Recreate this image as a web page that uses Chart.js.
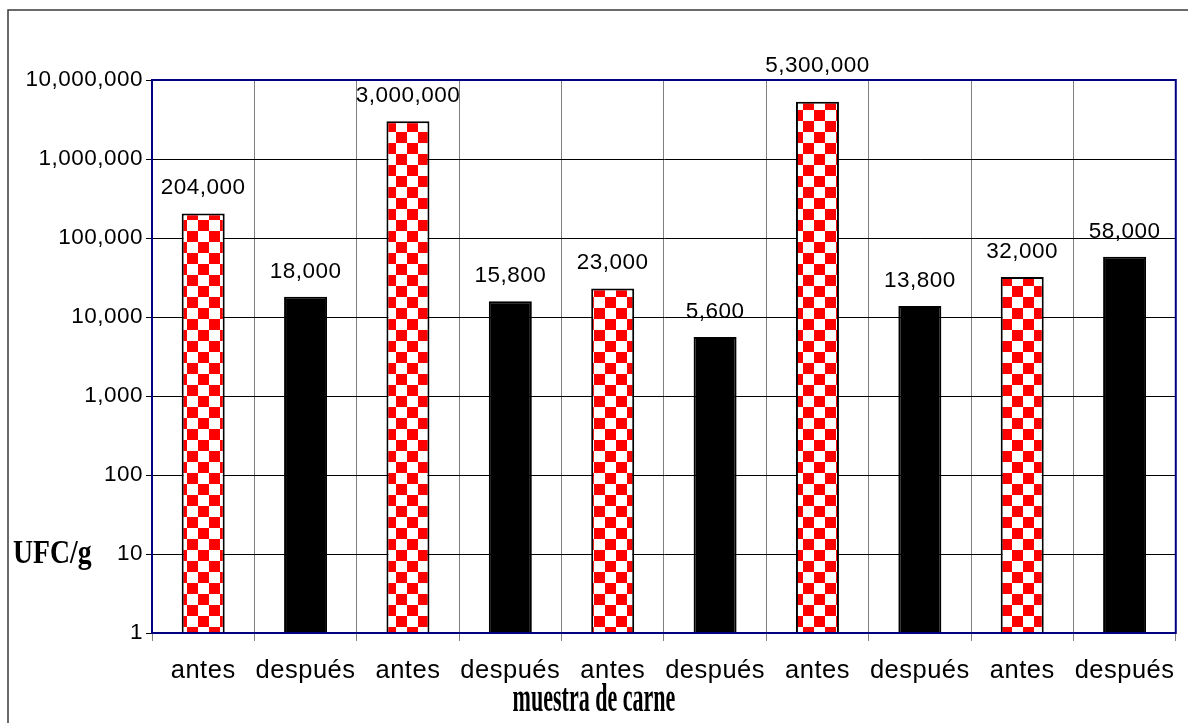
<!DOCTYPE html>
<html>
<head>
<meta charset="utf-8">
<script src="https://cdn.jsdelivr.net/npm/chart.js@4/dist/chart.umd.min.js"></script>
<style>
  body { margin: 0; background: #fff; }
  #wrap { position: relative; width: 1188px; height: 723px; }
</style>
</head>
<body>
<div id="wrap"><canvas id="myChart" width="1188" height="723"></canvas></div>
<script>
// data
var categories = ['antes', 'después', 'antes', 'después', 'antes', 'después', 'antes', 'después', 'antes', 'después'];
var ufc = [204000, 18000, 3000000, 15800, 23000, 5600, 5300000, 13800, 32000, 58000];
var yTicks = [1, 10, 100, 1000, 10000, 100000, 1000000, 10000000];
var yTitle = 'UFC/g';
var xTitle = 'muestra de carne';

function fmt(v) {
    return Number(v).toLocaleString('en-US');
}

// red / white checker fill for the "antes" bars
function checker() {
    var c = document.createElement('canvas');
    c.width = 22;
    c.height = 22;
    var g = c.getContext('2d');
    g.fillStyle = '#ffffff';
    g.fillRect(0, 0, 22, 22);
    g.fillStyle = '#ff0000';
    g.fillRect(0, 0, 11, 11);
    g.fillRect(11, 11, 11, 11);
    return g.createPattern(c, 'repeat');
}
var pat = checker();
var fills = categories.map(function (c) { return c == 'antes' ? pat : '#000000'; });

var framePlugin = {
    id: 'frame',
    beforeDraw: function (chart) {
        // the original text is a bit wider than Arial
        chart.ctx.letterSpacing = '0.5px';
    },
    afterDatasetsDraw: function (chart) {
        var ctx = chart.ctx;
        var a = chart.chartArea;
        ctx.save();
        // plot area border
        ctx.strokeStyle = '#000080';
        ctx.lineWidth = 2;
        ctx.strokeRect(a.left, a.top, a.right - a.left, a.bottom - a.top);
        // value labels
        ctx.fillStyle = '#000';
        ctx.font = '22.5px "Liberation Sans", Arial, sans-serif';
        ctx.textAlign = 'center';
        ctx.textBaseline = 'bottom';
        var meta = chart.getDatasetMeta(0);
        meta.data.forEach(function (bar, i) {
            var y = bar.y - 14;
            // keep labels off the top border line
            if (y > a.top && y - 20 < a.top) y = a.top - 3;
            ctx.fillText(fmt(ufc[i]), bar.x, y);
        });
        ctx.restore();
    },
    afterDraw: function (chart) {
        var ctx = chart.ctx;
        ctx.save();
        ctx.letterSpacing = '0px';
        // outer frame (only top and left visible)
        ctx.strokeStyle = '#3a3a3a';
        ctx.lineWidth = 1.5;
        ctx.beginPath();
        ctx.moveTo(8, 723);
        ctx.lineTo(8, 10);
        ctx.lineTo(1188, 10);
        ctx.stroke();
        ctx.fillStyle = '#000';
        ctx.textBaseline = 'alphabetic';
        // y title
        ctx.save();
        ctx.translate(13, 563);
        ctx.scale(0.84, 1.05);
        ctx.font = 'bold 33px "Liberation Serif", "Times New Roman", serif';
        ctx.textAlign = 'left';
        ctx.fillText(yTitle, 0, 0);
        ctx.restore();
        // x title
        ctx.save();
        ctx.translate(594, 711);
        ctx.scale(0.58, 1.05);
        ctx.font = 'bold 38px "Liberation Serif", "Times New Roman", serif';
        ctx.textAlign = 'center';
        ctx.fillText(xTitle, 0, 0);
        ctx.restore();
        ctx.restore();
    }
};

var ctx = document.getElementById('myChart');
var chart = new Chart(ctx, {
    type: 'bar',
    data: {
        labels: categories,
        datasets: [
            {
                data: ufc,
                backgroundColor: fills,
                borderColor: '#000',
                borderWidth: 2,
                barPercentage: 0.42,
                categoryPercentage: 1
            }
        ]
    },
    options: {
        responsive: false,
        animation: false,
        layout: { padding: { top: 80, right: 4, left: 0, bottom: 0 } },
        plugins: {
            legend: { display: false },
            tooltip: { enabled: false }
        },
        scales: {
            x: {
                offset: true,
                grid: { offset: true, color: '#808080', lineWidth: 1, tickLength: 8 },
                border: { color: '#000080', width: 2 },
                ticks: {
                    color: '#000',
                    padding: 15,
                    maxRotation: 0,
                    font: { family: '"Liberation Sans", Arial, sans-serif', size: 25.5 }
                },
                afterFit: function (s) { s.height = 90; }
            },
            y: {
                type: 'logarithmic',
                min: 1,
                max: 10000000,
                grid: { color: '#000', lineWidth: 1, tickLength: 6 },
                border: { color: '#000080', width: 2 },
                ticks: {
                    color: '#000',
                    padding: 3,
                    font: { family: '"Liberation Sans", Arial, sans-serif', size: 22.5 },
                    callback: function (v) { return fmt(v); }
                },
                afterBuildTicks: function (s) {
                    s.ticks = yTicks.map(function (v) { return { value: v }; });
                },
                afterFit: function (s) { s.width = 152; }
            }
        }
    },
    plugins: [framePlugin]
});
</script>
</body>
</html>
